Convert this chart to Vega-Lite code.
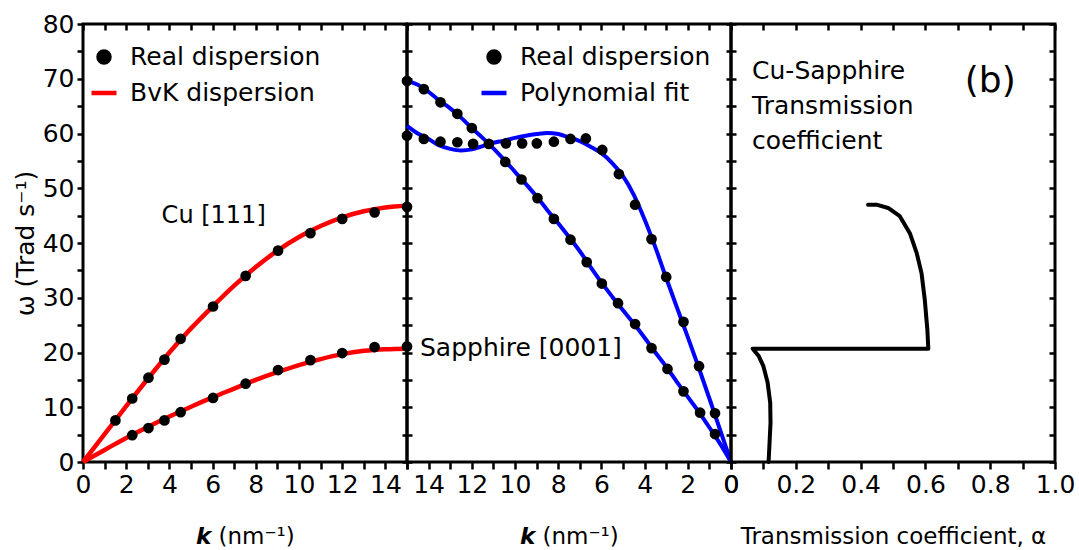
{
  "$schema": "https://vega.github.io/schema/vega-lite/v6.json",
  "padding": {"left": 11, "top": 10, "right": 2, "bottom": 0},
  "spacing": 0,
  "bounds": "flush",
  "datasets": {
    "cu": [
      {"k": 1.5, "omega": 7.6, "series": "Real dispersion"},
      {"k": 2.28, "omega": 11.6, "series": "Real dispersion"},
      {"k": 3.03, "omega": 15.4, "series": "Real dispersion"},
      {"k": 3.77, "omega": 18.7, "series": "Real dispersion"},
      {"k": 4.52, "omega": 22.5, "series": "Real dispersion"},
      {"k": 6.02, "omega": 28.4, "series": "Real dispersion"},
      {"k": 7.53, "omega": 34.0, "series": "Real dispersion"},
      {"k": 9.03, "omega": 38.6, "series": "Real dispersion"},
      {"k": 10.53, "omega": 41.8, "series": "Real dispersion"},
      {"k": 12.0, "omega": 44.4, "series": "Real dispersion"},
      {"k": 13.5, "omega": 45.6, "series": "Real dispersion"},
      {"k": 15.0, "omega": 46.6, "series": "Real dispersion"},
      {"k": 2.28, "omega": 4.9, "series": "Real dispersion"},
      {"k": 3.03, "omega": 6.2, "series": "Real dispersion"},
      {"k": 3.77, "omega": 7.6, "series": "Real dispersion"},
      {"k": 4.52, "omega": 9.1, "series": "Real dispersion"},
      {"k": 6.02, "omega": 11.7, "series": "Real dispersion"},
      {"k": 7.53, "omega": 14.3, "series": "Real dispersion"},
      {"k": 9.03, "omega": 16.8, "series": "Real dispersion"},
      {"k": 10.53, "omega": 18.6, "series": "Real dispersion"},
      {"k": 12.0, "omega": 19.9, "series": "Real dispersion"},
      {"k": 13.5, "omega": 21.0, "series": "Real dispersion"},
      {"k": 15.0, "omega": 21.1, "series": "Real dispersion"}
    ],
    "cu_fit": [
      {"k": 0, "omega": 0, "branch": "L", "series": "BvK dispersion"},
      {"k": 1, "omega": 5.1, "branch": "L", "series": "BvK dispersion"},
      {"k": 2, "omega": 10.2, "branch": "L", "series": "BvK dispersion"},
      {"k": 3, "omega": 15.2, "branch": "L", "series": "BvK dispersion"},
      {"k": 4, "omega": 20.0, "branch": "L", "series": "BvK dispersion"},
      {"k": 5, "omega": 24.4, "branch": "L", "series": "BvK dispersion"},
      {"k": 6, "omega": 28.4, "branch": "L", "series": "BvK dispersion"},
      {"k": 7, "omega": 32.2, "branch": "L", "series": "BvK dispersion"},
      {"k": 8, "omega": 35.6, "branch": "L", "series": "BvK dispersion"},
      {"k": 9, "omega": 38.6, "branch": "L", "series": "BvK dispersion"},
      {"k": 10, "omega": 41.1, "branch": "L", "series": "BvK dispersion"},
      {"k": 11, "omega": 43.1, "branch": "L", "series": "BvK dispersion"},
      {"k": 12, "omega": 44.7, "branch": "L", "series": "BvK dispersion"},
      {"k": 13, "omega": 45.8, "branch": "L", "series": "BvK dispersion"},
      {"k": 14, "omega": 46.5, "branch": "L", "series": "BvK dispersion"},
      {"k": 15, "omega": 46.8, "branch": "L", "series": "BvK dispersion"},
      {"k": 0, "omega": 0, "branch": "T", "series": "BvK dispersion"},
      {"k": 1, "omega": 2.2, "branch": "T", "series": "BvK dispersion"},
      {"k": 2, "omega": 4.4, "branch": "T", "series": "BvK dispersion"},
      {"k": 3, "omega": 6.4, "branch": "T", "series": "BvK dispersion"},
      {"k": 4, "omega": 8.3, "branch": "T", "series": "BvK dispersion"},
      {"k": 5, "omega": 10.1, "branch": "T", "series": "BvK dispersion"},
      {"k": 6, "omega": 11.8, "branch": "T", "series": "BvK dispersion"},
      {"k": 7, "omega": 13.4, "branch": "T", "series": "BvK dispersion"},
      {"k": 8, "omega": 15.0, "branch": "T", "series": "BvK dispersion"},
      {"k": 9, "omega": 16.4, "branch": "T", "series": "BvK dispersion"},
      {"k": 10, "omega": 17.7, "branch": "T", "series": "BvK dispersion"},
      {"k": 11, "omega": 18.8, "branch": "T", "series": "BvK dispersion"},
      {"k": 12, "omega": 19.7, "branch": "T", "series": "BvK dispersion"},
      {"k": 13, "omega": 20.3, "branch": "T", "series": "BvK dispersion"},
      {"k": 14, "omega": 20.6, "branch": "T", "series": "BvK dispersion"},
      {"k": 15, "omega": 20.7, "branch": "T", "series": "BvK dispersion"}
    ],
    "sap": [
      {"k": 15.0, "omega": 69.6, "series": "Real dispersion"},
      {"k": 14.22, "omega": 68.1, "series": "Real dispersion"},
      {"k": 13.45, "omega": 65.7, "series": "Real dispersion"},
      {"k": 12.67, "omega": 63.6, "series": "Real dispersion"},
      {"k": 12.0, "omega": 61.0, "series": "Real dispersion"},
      {"k": 11.21, "omega": 58.1, "series": "Real dispersion"},
      {"k": 10.45, "omega": 54.8, "series": "Real dispersion"},
      {"k": 9.7, "omega": 51.6, "series": "Real dispersion"},
      {"k": 8.96, "omega": 48.2, "series": "Real dispersion"},
      {"k": 8.2, "omega": 44.4, "series": "Real dispersion"},
      {"k": 7.43, "omega": 40.6, "series": "Real dispersion"},
      {"k": 6.68, "omega": 36.5, "series": "Real dispersion"},
      {"k": 5.98, "omega": 32.6, "series": "Real dispersion"},
      {"k": 5.23, "omega": 29.0, "series": "Real dispersion"},
      {"k": 4.44, "omega": 25.2, "series": "Real dispersion"},
      {"k": 3.68, "omega": 20.8, "series": "Real dispersion"},
      {"k": 2.94, "omega": 17.0, "series": "Real dispersion"},
      {"k": 2.2, "omega": 12.9, "series": "Real dispersion"},
      {"k": 1.43, "omega": 9.0, "series": "Real dispersion"},
      {"k": 0.74, "omega": 5.1, "series": "Real dispersion"},
      {"k": 15.0, "omega": 59.6, "series": "Real dispersion"},
      {"k": 14.22, "omega": 59.0, "series": "Real dispersion"},
      {"k": 13.45, "omega": 58.5, "series": "Real dispersion"},
      {"k": 12.67, "omega": 58.4, "series": "Real dispersion"},
      {"k": 11.94, "omega": 58.1, "series": "Real dispersion"},
      {"k": 10.42, "omega": 58.2, "series": "Real dispersion"},
      {"k": 9.67, "omega": 58.2, "series": "Real dispersion"},
      {"k": 8.99, "omega": 58.2, "series": "Real dispersion"},
      {"k": 8.2, "omega": 58.5, "series": "Real dispersion"},
      {"k": 7.43, "omega": 59.0, "series": "Real dispersion"},
      {"k": 6.72, "omega": 59.1, "series": "Real dispersion"},
      {"k": 5.96, "omega": 57.0, "series": "Real dispersion"},
      {"k": 5.19, "omega": 52.6, "series": "Real dispersion"},
      {"k": 4.44, "omega": 47.0, "series": "Real dispersion"},
      {"k": 3.68, "omega": 40.7, "series": "Real dispersion"},
      {"k": 3.0, "omega": 33.8, "series": "Real dispersion"},
      {"k": 2.2, "omega": 25.6, "series": "Real dispersion"},
      {"k": 1.48, "omega": 17.5, "series": "Real dispersion"},
      {"k": 0.74, "omega": 8.9, "series": "Real dispersion"}
    ],
    "sap_fit": [
      {"k": 15, "omega": 69.6, "branch": "LA", "series": "Polynomial fit"},
      {"k": 14.5, "omega": 68.9, "branch": "LA", "series": "Polynomial fit"},
      {"k": 14, "omega": 67.6, "branch": "LA", "series": "Polynomial fit"},
      {"k": 13.5, "omega": 66.0, "branch": "LA", "series": "Polynomial fit"},
      {"k": 13, "omega": 64.6, "branch": "LA", "series": "Polynomial fit"},
      {"k": 12.5, "omega": 62.9, "branch": "LA", "series": "Polynomial fit"},
      {"k": 12, "omega": 61.0, "branch": "LA", "series": "Polynomial fit"},
      {"k": 11.5, "omega": 59.2, "branch": "LA", "series": "Polynomial fit"},
      {"k": 11, "omega": 57.3, "branch": "LA", "series": "Polynomial fit"},
      {"k": 10.5, "omega": 55.2, "branch": "LA", "series": "Polynomial fit"},
      {"k": 10, "omega": 53.0, "branch": "LA", "series": "Polynomial fit"},
      {"k": 9.5, "omega": 50.8, "branch": "LA", "series": "Polynomial fit"},
      {"k": 9, "omega": 48.5, "branch": "LA", "series": "Polynomial fit"},
      {"k": 8.5, "omega": 46.0, "branch": "LA", "series": "Polynomial fit"},
      {"k": 8, "omega": 43.6, "branch": "LA", "series": "Polynomial fit"},
      {"k": 7.5, "omega": 41.1, "branch": "LA", "series": "Polynomial fit"},
      {"k": 7, "omega": 38.5, "branch": "LA", "series": "Polynomial fit"},
      {"k": 6.5, "omega": 35.6, "branch": "LA", "series": "Polynomial fit"},
      {"k": 6, "omega": 32.8, "branch": "LA", "series": "Polynomial fit"},
      {"k": 5.5, "omega": 30.2, "branch": "LA", "series": "Polynomial fit"},
      {"k": 5, "omega": 27.7, "branch": "LA", "series": "Polynomial fit"},
      {"k": 4.5, "omega": 25.3, "branch": "LA", "series": "Polynomial fit"},
      {"k": 4, "omega": 22.7, "branch": "LA", "series": "Polynomial fit"},
      {"k": 3.5, "omega": 20.0, "branch": "LA", "series": "Polynomial fit"},
      {"k": 3, "omega": 17.4, "branch": "LA", "series": "Polynomial fit"},
      {"k": 2.5, "omega": 14.6, "branch": "LA", "series": "Polynomial fit"},
      {"k": 2, "omega": 11.9, "branch": "LA", "series": "Polynomial fit"},
      {"k": 1.5, "omega": 9.2, "branch": "LA", "series": "Polynomial fit"},
      {"k": 1, "omega": 6.3, "branch": "LA", "series": "Polynomial fit"},
      {"k": 0.5, "omega": 3.3, "branch": "LA", "series": "Polynomial fit"},
      {"k": 0, "omega": 0, "branch": "LA", "series": "Polynomial fit"},
      {"k": 15, "omega": 61.4, "branch": "TA", "series": "Polynomial fit"},
      {"k": 14.5, "omega": 60.0, "branch": "TA", "series": "Polynomial fit"},
      {"k": 14, "omega": 59.0, "branch": "TA", "series": "Polynomial fit"},
      {"k": 13.5, "omega": 57.8, "branch": "TA", "series": "Polynomial fit"},
      {"k": 13, "omega": 57.2, "branch": "TA", "series": "Polynomial fit"},
      {"k": 12.5, "omega": 56.9, "branch": "TA", "series": "Polynomial fit"},
      {"k": 12, "omega": 57.1, "branch": "TA", "series": "Polynomial fit"},
      {"k": 11.5, "omega": 57.7, "branch": "TA", "series": "Polynomial fit"},
      {"k": 11, "omega": 58.3, "branch": "TA", "series": "Polynomial fit"},
      {"k": 10.5, "omega": 58.7, "branch": "TA", "series": "Polynomial fit"},
      {"k": 10, "omega": 59.2, "branch": "TA", "series": "Polynomial fit"},
      {"k": 9.5, "omega": 59.6, "branch": "TA", "series": "Polynomial fit"},
      {"k": 9, "omega": 59.9, "branch": "TA", "series": "Polynomial fit"},
      {"k": 8.5, "omega": 60.1, "branch": "TA", "series": "Polynomial fit"},
      {"k": 8, "omega": 59.9, "branch": "TA", "series": "Polynomial fit"},
      {"k": 7.5, "omega": 59.3, "branch": "TA", "series": "Polynomial fit"},
      {"k": 7, "omega": 58.6, "branch": "TA", "series": "Polynomial fit"},
      {"k": 6.5, "omega": 57.6, "branch": "TA", "series": "Polynomial fit"},
      {"k": 6, "omega": 56.4, "branch": "TA", "series": "Polynomial fit"},
      {"k": 5.5, "omega": 54.6, "branch": "TA", "series": "Polynomial fit"},
      {"k": 5, "omega": 52.2, "branch": "TA", "series": "Polynomial fit"},
      {"k": 4.5, "omega": 48.8, "branch": "TA", "series": "Polynomial fit"},
      {"k": 4, "omega": 44.3, "branch": "TA", "series": "Polynomial fit"},
      {"k": 3.5, "omega": 39.2, "branch": "TA", "series": "Polynomial fit"},
      {"k": 3, "omega": 33.6, "branch": "TA", "series": "Polynomial fit"},
      {"k": 2.5, "omega": 28.2, "branch": "TA", "series": "Polynomial fit"},
      {"k": 2, "omega": 22.8, "branch": "TA", "series": "Polynomial fit"},
      {"k": 1.5, "omega": 17.3, "branch": "TA", "series": "Polynomial fit"},
      {"k": 1, "omega": 11.6, "branch": "TA", "series": "Polynomial fit"},
      {"k": 0.5, "omega": 5.8, "branch": "TA", "series": "Polynomial fit"},
      {"k": 0, "omega": 0, "branch": "TA", "series": "Polynomial fit"}
    ],
    "trans": [
      {"alpha": 0.116, "omega": 0, "seq": 1},
      {"alpha": 0.119, "omega": 3.5, "seq": 2},
      {"alpha": 0.122, "omega": 7.2, "seq": 3},
      {"alpha": 0.121, "omega": 10.8, "seq": 4},
      {"alpha": 0.113, "omega": 14.5, "seq": 5},
      {"alpha": 0.1, "omega": 17.5, "seq": 6},
      {"alpha": 0.086, "omega": 19.3, "seq": 7},
      {"alpha": 0.067, "omega": 20.7, "seq": 8},
      {"alpha": 0.609, "omega": 20.7, "seq": 9},
      {"alpha": 0.606, "omega": 24.2, "seq": 10},
      {"alpha": 0.598, "omega": 29.7, "seq": 11},
      {"alpha": 0.588, "omega": 34.5, "seq": 12},
      {"alpha": 0.573, "omega": 38.2, "seq": 13},
      {"alpha": 0.552, "omega": 41.8, "seq": 14},
      {"alpha": 0.521, "omega": 44.9, "seq": 15},
      {"alpha": 0.485, "omega": 46.4, "seq": 16},
      {"alpha": 0.449, "omega": 47.0, "seq": 17},
      {"alpha": 0.423, "omega": 47.0, "seq": 18}
    ]
  },
  "hconcat": [
    {
      "width": 324,
      "height": 438,
      "layer": [
        {
          "data": {"name": "cu_fit"},
          "mark": {"type": "line", "strokeWidth": 4.5, "interpolate": "monotone"},
          "encoding": {
            "x": {"field": "k", "type": "quantitative", "scale": {"domain": [0, 15], "nice": false},
              "axis": {"orient": "bottom", "values": [0,1,2,3,4,5,6,7,8,9,10,11,12,13,14,15], "labelExpr": "datum.value % 2 === 0 ? datum.label : ''", "title": "𝙠 (nm⁻¹)", "tickSize": 7, "titlePadding": 28}},
            "y": {"field": "omega", "type": "quantitative", "scale": {"domain": [0, 80], "nice": false},
              "axis": {"orient": "left", "values": [0,5,10,15,20,25,30,35,40,45,50,55,60,65,70,75,80], "labelExpr": "datum.value % 10 === 0 ? datum.label : ''", "title": "ω (Trad s⁻¹)", "titlePadding": 4, "titleFontSize": 25}},
            "color": {"field": "series", "type": "nominal",
              "scale": {"domain": ["Real dispersion", "BvK dispersion"], "range": ["black", "#ff0000"]},
              "legend": {"orient": "none", "legendX": 6, "legendY": 18, "title": null,
                "encode": {"symbols": {"update": {
                  "shape": {"signal": "datum.value === 'Real dispersion' ? 'circle' : 'stroke'"},
                  "size": {"signal": "datum.value === 'Real dispersion' ? 120 : 625"},
                  "fill": {"signal": "datum.value === 'Real dispersion' ? 'black' : 'transparent'"},
                  "stroke": {"signal": "datum.value === 'Real dispersion' ? 'transparent' : '#ff0000'"},
                  "strokeWidth": {"value": 4.5},
                  "opacity": {"value": 1}
                }}}}},
            "detail": {"field": "branch", "type": "nominal"}
          }
        },
        {
          "data": {"name": "cu"},
          "mark": {"type": "circle", "size": 115, "opacity": 1},
          "encoding": {
            "x": {"field": "k", "type": "quantitative", "scale": {"domain": [0, 15], "nice": false},
              "axis": {"orient": "top", "values": [0,1,2,3,4,5,6,7,8,9,10,11,12,13,14,15], "labels": false, "title": null, "tickSize": -6}},
            "y": {"field": "omega", "type": "quantitative", "scale": {"domain": [0, 80], "nice": false},
              "axis": {"orient": "right", "values": [0,5,10,15,20,25,30,35,40,45,50,55,60,65,70,75,80], "labels": false, "title": null, "tickSize": 5}},
            "color": {"field": "series", "type": "nominal"}
          }
        },
        {
          "data": {"values": [{}]},
          "mark": {"type": "text", "font": "DejaVu Sans", "fontSize": 24, "color": "black", "align": "center", "baseline": "middle"},
          "encoding": {
            "x": {"datum": 6.05, "type": "quantitative", "axis": null},
            "y": {"datum": 45.0, "type": "quantitative", "axis": null},
            "text": {"value": "Cu [111]"}
          }
        }
      ],
      "resolve": {"axis": {"x": "independent", "y": "independent"}}
    },
    {
      "width": 324,
      "height": 438,
      "layer": [
        {
          "data": {"name": "sap_fit"},
          "mark": {"type": "line", "strokeWidth": 4, "interpolate": "monotone"},
          "encoding": {
            "x": {"field": "k", "type": "quantitative", "scale": {"domain": [0, 15], "nice": false, "reverse": true},
              "axis": {"orient": "bottom", "values": [0,1,2,3,4,5,6,7,8,9,10,11,12,13,14,15], "labelExpr": "datum.value % 2 === 0 ? datum.label : ''", "title": "𝙠 (nm⁻¹)", "tickSize": 7, "titlePadding": 28}},
            "y": {"field": "omega", "type": "quantitative", "scale": {"domain": [0, 80], "nice": false},
              "axis": {"orient": "left", "values": [0,5,10,15,20,25,30,35,40,45,50,55,60,65,70,75,80], "labels": false, "title": null, "tickSize": 5}},
            "color": {"field": "series", "type": "nominal",
              "scale": {"domain": ["Real dispersion", "Polynomial fit"], "range": ["black", "#0000ff"]},
              "legend": {"orient": "none", "legendX": 72, "legendY": 18, "title": null,
                "encode": {"symbols": {"update": {
                  "shape": {"signal": "datum.value === 'Real dispersion' ? 'circle' : 'stroke'"},
                  "size": {"signal": "datum.value === 'Real dispersion' ? 120 : 625"},
                  "fill": {"signal": "datum.value === 'Real dispersion' ? 'black' : 'transparent'"},
                  "stroke": {"signal": "datum.value === 'Real dispersion' ? 'transparent' : '#0000ff'"},
                  "strokeWidth": {"value": 4.5},
                  "opacity": {"value": 1}
                }}}}},
            "detail": {"field": "branch", "type": "nominal"}
          }
        },
        {
          "data": {"name": "sap"},
          "mark": {"type": "circle", "size": 115, "opacity": 1},
          "encoding": {
            "x": {"field": "k", "type": "quantitative", "scale": {"domain": [0, 15], "nice": false, "reverse": true},
              "axis": {"orient": "top", "values": [0,1,2,3,4,5,6,7,8,9,10,11,12,13,14,15], "labels": false, "title": null, "tickSize": -6}},
            "y": {"field": "omega", "type": "quantitative", "scale": {"domain": [0, 80], "nice": false},
              "axis": {"orient": "right", "values": [0,5,10,15,20,25,30,35,40,45,50,55,60,65,70,75,80], "labels": false, "title": null, "tickSize": 5}},
            "color": {"field": "series", "type": "nominal"}
          }
        },
        {
          "data": {"values": [{}]},
          "mark": {"type": "text", "font": "DejaVu Sans", "fontSize": 25, "color": "black", "align": "left", "baseline": "middle"},
          "encoding": {
            "x": {"datum": 14.4, "type": "quantitative", "axis": null},
            "y": {"datum": 20.8, "type": "quantitative", "axis": null},
            "text": {"value": "Sapphire [0001]"}
          }
        }
      ],
      "resolve": {"axis": {"x": "independent", "y": "independent"}}
    },
    {
      "width": 324,
      "height": 438,
      "layer": [
        {
          "data": {"name": "trans"},
          "mark": {"type": "line", "strokeWidth": 4, "color": "black", "strokeJoin": "round", "strokeCap": "round"},
          "encoding": {
            "x": {"field": "alpha", "type": "quantitative", "scale": {"domain": [0, 1], "nice": false},
              "axis": {"orient": "bottom", "values": [0,0.1,0.2,0.3,0.4,0.5,0.6,0.7,0.8,0.9,1], "labelExpr": "datum.value === 0 ? '0' : (round(datum.value * 10) % 2 === 0 ? format(datum.value, '.1f') : '')", "title": "Transmission coefficient, α", "tickSize": 7, "titlePadding": 28}},
            "y": {"field": "omega", "type": "quantitative", "scale": {"domain": [0, 80], "nice": false},
              "axis": {"orient": "left", "values": [0,5,10,15,20,25,30,35,40,45,50,55,60,65,70,75,80], "labels": false, "title": null, "tickSize": 5}},
            "order": {"field": "seq", "type": "quantitative"}
          }
        },
        {
          "data": {"values": [{}]},
          "mark": {"type": "text", "font": "DejaVu Sans", "fontSize": 25, "color": "black", "align": "left", "baseline": "middle", "lineHeight": 35},
          "encoding": {
            "x": {"datum": 0.065, "type": "quantitative", "scale": {"domain": [0, 1], "nice": false},
              "axis": {"orient": "top", "values": [0,0.1,0.2,0.3,0.4,0.5,0.6,0.7,0.8,0.9,1], "labels": false, "title": null, "tickSize": -6}},
            "y": {"datum": 71.4, "type": "quantitative", "scale": {"domain": [0, 80], "nice": false},
              "axis": {"orient": "right", "values": [0,5,10,15,20,25,30,35,40,45,50,55,60,65,70,75,80], "labels": false, "title": null, "tickSize": -6}},
            "text": {"value": ["Cu-Sapphire", "Transmission", "coefficient"]}
          }
        },
        {
          "data": {"values": [{}]},
          "mark": {"type": "text", "font": "DejaVu Sans", "fontSize": 36, "color": "black", "align": "center", "baseline": "middle"},
          "encoding": {
            "x": {"datum": 0.8, "type": "quantitative", "axis": null},
            "y": {"datum": 69.5, "type": "quantitative", "axis": null},
            "text": {"value": "(b)"}
          }
        }
      ],
      "resolve": {"axis": {"x": "independent", "y": "independent"}}
    }
  ],
  "resolve": {"scale": {"color": "independent"}, "legend": {"color": "independent"}},
  "config": {
    "font": "DejaVu Sans",
    "view": {"stroke": "black", "strokeWidth": 3},
    "axis": {
      "grid": false, "domain": false,
      "tickColor": "black", "tickWidth": 2.5, "tickSize": 6,
      "labelFont": "DejaVu Sans", "labelFontSize": 25, "labelColor": "black", "labelPadding": 3,
      "labelFlush": false, "labelOverlap": false,
      "titleFont": "DejaVu Sans", "titleFontSize": 23, "titleFontWeight": "normal", "titleColor": "black", "titlePadding": 8
    },
    "legend": {
      "labelFont": "DejaVu Sans", "labelFontSize": 25, "labelColor": "black", "labelOffset": 11,
      "rowPadding": 6, "symbolSize": 625, "padding": 0, "labelLimit": 400
    }
  }
}
